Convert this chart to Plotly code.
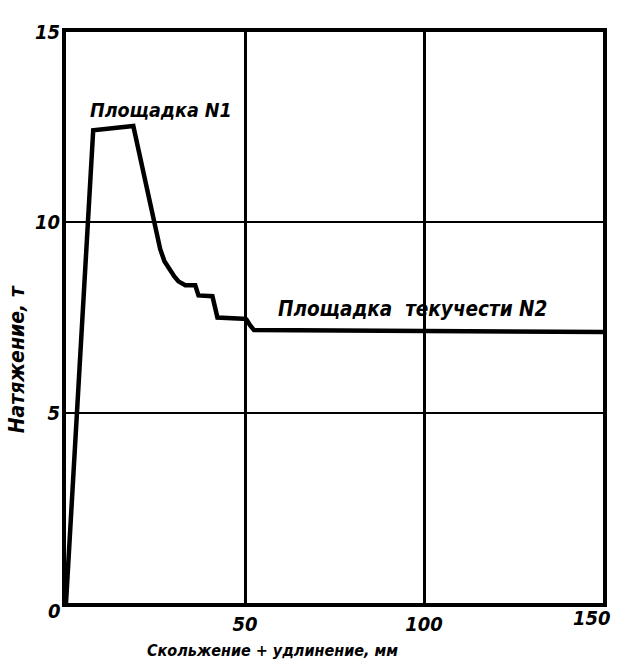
import plotly.graph_objects as go

# Curve: slip + elongation (mm) vs tension (t)
x_mm = [0, 7.6, 18.8, 24.9, 25.6, 26.3, 27.5, 29.1, 30.3, 31.4, 33.3, 36.1, 37.0, 40.9, 42.3, 49.4, 50.4, 51.4, 52.5, 150]
y_t = [0, 12.42, 12.53, 10.0, 9.6, 9.3, 8.98, 8.72, 8.57, 8.45, 8.35, 8.35, 8.08, 8.06, 7.5, 7.47, 7.45, 7.3, 7.17, 7.12]

x_ticks = [50, 100]
x_tick_text = ["50", "100"]
x_last_tick = 150
y_ticks = [5, 10, 15]
y_tick_text = ["5", "10", "15"]
origin_text = "0"

label1 = "Площадка N1"
label2 = "Площадка  текучести N2"
x_title = "Скольжение + удлинение, мм"
y_title = "Натяжение, т"

FONT = "DejaVu Sans Condensed, DejaVu Sans, sans-serif"
TICKFONT = dict(family=FONT, size=20, style="italic", weight="bold")

fig = go.Figure()
fig.add_trace(go.Scatter(x=x_mm, y=y_t, mode="lines",
                         line=dict(color="black", width=4.5),
                         hoverinfo="skip", showlegend=False))

fig.update_layout(
    width=618, height=661,
    margin=dict(l=66, r=11, t=32, b=58),
    paper_bgcolor="white", plot_bgcolor="white",
    font=dict(family=FONT, color="black"),
    xaxis=dict(range=[0, 150], tickvals=x_ticks + [x_last_tick],
               ticktext=x_tick_text + [""],
               showgrid=True, gridcolor="black", gridwidth=2.5,
               showline=True, linecolor="black", linewidth=4, mirror=True,
               zeroline=False, ticks="", ticklabelstandoff=0,
               tickfont=TICKFONT),
    yaxis=dict(range=[0, 15], tickvals=y_ticks, ticktext=y_tick_text,
               showgrid=True, gridcolor="black", gridwidth=2,
               showline=True, linecolor="black", linewidth=4, mirror=True,
               zeroline=False, ticks="", ticklabelstandoff=-2,
               tickfont=TICKFONT),
    annotations=[
        dict(x=0, y=0, xref="x", yref="y", text=origin_text,
             showarrow=False, xanchor="right", yanchor="middle", xshift=-3, yshift=-8,
             font=TICKFONT),
        dict(x=x_last_tick, y=0, xref="x", yref="y", text=str(x_last_tick),
             showarrow=False, xanchor="right", yanchor="top", xshift=10, yshift=-1,
             font=TICKFONT),
        dict(x=26.4, y=12.95, xref="x", yref="y", text=label1, showarrow=False,
             font=dict(family=FONT, size=19.5, style="italic", weight="bold")),
        dict(x=96.8, y=7.72, xref="x", yref="y", text=label2, showarrow=False,
             font=dict(family=FONT, size=20.5, style="italic", weight="bold")),
        dict(x=0.384, y=-0.083, xref="paper", yref="paper", text=x_title,
             showarrow=False, xanchor="center", yanchor="middle",
             font=dict(family=FONT, size=16, style="italic", weight="bold")),
        dict(x=-0.092, y=0.426, xref="paper", yref="paper", text=y_title,
             showarrow=False, textangle=-90, xanchor="center", yanchor="middle",
             font=dict(family=FONT, size=21, style="italic", weight="bold")),
    ],
)

fig.write_html("out.html")
